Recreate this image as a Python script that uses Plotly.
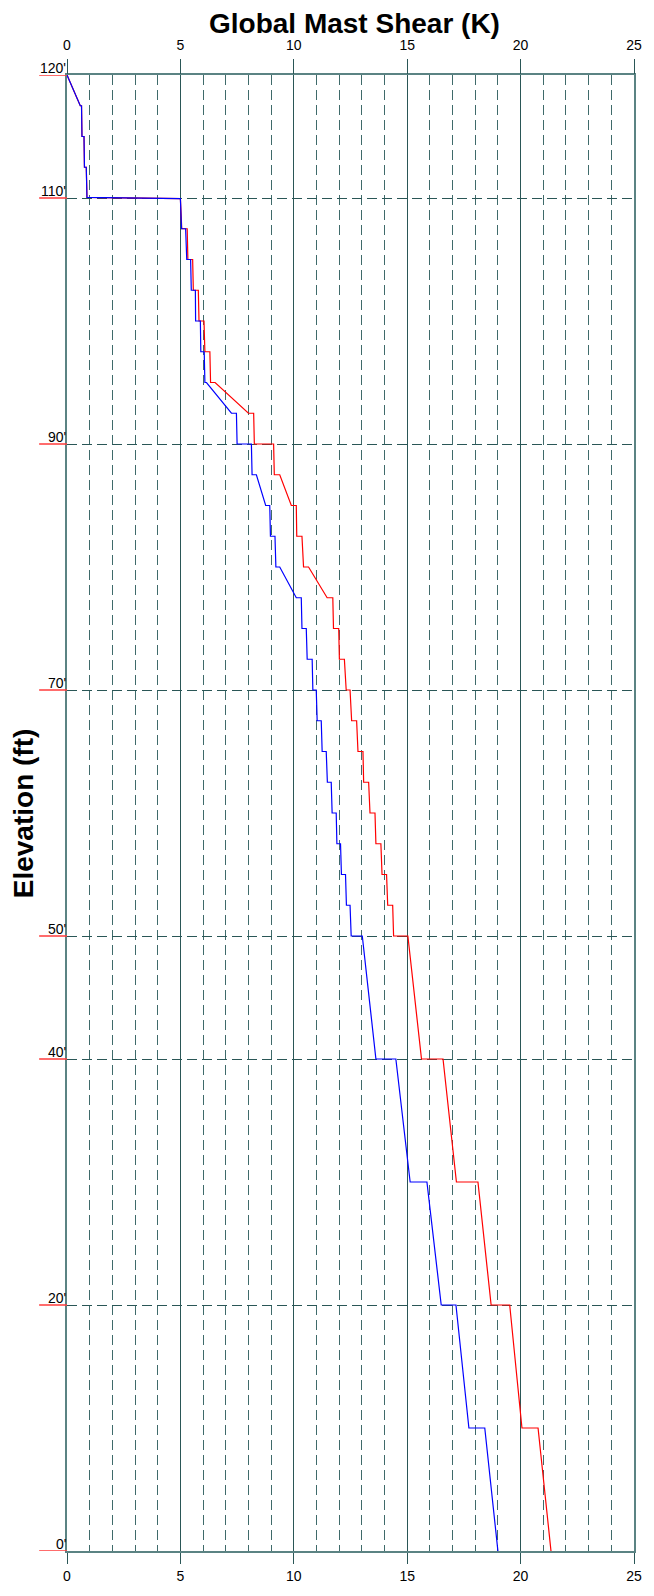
import plotly.graph_objects as go

# ---- data (shear in K, elevation in ft) ----
blue_shear = [0, 0.585, 0.64, 0.66, 0.75, 0.77, 0.85, 0.88, 5.0, 5.05, 5.23, 5.28, 5.45, 5.48, 5.66,
              5.67, 5.88, 5.90, 6.05, 6.08, 6.15, 7.25, 7.47, 7.50, 8.13, 8.16, 8.35, 8.76, 8.94,
              8.97, 9.17, 9.21, 9.38, 10.11, 10.33, 10.36, 10.55, 10.59, 10.81, 10.84, 10.99,
              11.03, 11.21, 11.25, 11.43, 11.48, 11.65, 11.69, 11.87, 11.90, 12.06, 12.10, 12.28,
              12.32, 12.48, 12.53, 13.02, 13.62, 14.50, 15.13, 15.87, 16.50, 17.15, 17.72, 18.42, 19.0]
blue_elev = [120, 117.5, 117.5, 115, 115, 112.5, 112.5, 110.05, 109.95, 107.5, 107.5, 105, 105, 102.5, 102.5,
             100, 100, 97.5, 97.5, 95, 95, 92.5, 92.5, 90, 90, 87.5, 87.5, 85, 85,
             82.5, 82.5, 80, 80, 77.5, 77.5, 75, 75, 72.5, 72.5, 70, 70,
             67.5, 67.5, 65, 65, 62.5, 62.5, 60, 60, 57.5, 57.5, 55, 55,
             52.5, 52.5, 50, 50, 40, 40, 30, 30, 20, 20, 10, 10, 0]

red_shear = [0, 0.585, 0.64, 0.66, 0.75, 0.77, 0.85, 0.88, 5.0, 5.06, 5.30, 5.33, 5.54, 5.57, 5.79,
             5.82, 6.04, 6.08, 6.30, 6.33, 6.53, 8.00, 8.23, 8.26, 9.11, 9.14, 9.38, 9.89, 10.11,
             10.13, 10.36, 10.43, 10.65, 11.47, 11.72, 11.75, 11.98, 12.01, 12.23, 12.31, 12.48,
             12.55, 12.77, 12.83, 13.05, 13.08, 13.30, 13.36, 13.58, 13.62, 13.84, 13.89, 14.09,
             14.14, 14.36, 14.40, 15.03, 15.63, 16.58, 17.17, 18.12, 18.70, 19.52, 20.06, 20.77, 21.34]
red_elev = blue_elev

x_ticks = [0, 5, 10, 15, 20, 25]
elev_levels = [120, 110, 90, 70, 50, 40, 20, 0]
elev_labels = ["120'", "110'", "90'", "70'", "50'", "40'", "20'", "0'"]

FONT = "Liberation Sans, Arial, sans-serif"
MAJOR = "#2a5656"
MINOR = "#3f6a6a"
FRAME = "#5b8383"

fig = go.Figure()
fig.add_trace(go.Scatter(x=red_shear, y=red_elev, mode="lines",
                         line=dict(color="#ff0000", width=1.2), showlegend=False, hoverinfo="skip"))
fig.add_trace(go.Scatter(x=blue_shear, y=blue_elev, mode="lines",
                         line=dict(color="#0000ff", width=1.2), showlegend=False, hoverinfo="skip"))
fig.add_trace(go.Scatter(x=[None], y=[None], xaxis="x2", showlegend=False, hoverinfo="skip"))

# page body has an 8px margin, so the figure is drawn 8px in from the window corner
W, H = 646, 1588
ml, mr, mt, mb = 59, 17, 67, 43
pw = W - ml - mr
ph = H - mt - mb

annotations = []
shapes = []
for v, t in zip(elev_levels, elev_labels):
    annotations.append(dict(x=0, y=v, xref="x", yref="y", text=t, showarrow=False,
                            xanchor="right", yanchor="bottom", xshift=1, yshift=-3,
                            font=dict(family=FONT, size=14, color="#000000")))
    shapes.append(dict(type="line", xref="paper", yref="y", x0=-28 / pw, x1=0, y0=v, y1=v,
                       line=dict(color="#ff3b3b", width=1.5), layer="above"))

annotations.append(dict(x=(348 - ml) / pw, y=1 + (mt - 15) / ph, xref="paper", yref="paper",
                        text="<b>Global Mast Shear (K)</b>", showarrow=False,
                        xanchor="center", yanchor="middle",
                        font=dict(family=FONT, size=28, color="#000000")))
annotations.append(dict(x=(15 - ml) / pw, y=0.5, xref="paper", yref="paper",
                        text="<b>Elevation (ft)</b>", showarrow=False, textangle=-90,
                        xanchor="center", yanchor="middle",
                        font=dict(family=FONT, size=28, color="#000000")))

axis_common = dict(range=[0, 25], tickvals=x_ticks, ticks="outside", tickcolor=MAJOR, tickwidth=1,
                   tickfont=dict(family=FONT, size=14, color="#000000"), zeroline=False)

fig.update_layout(
    width=W, height=H, margin=dict(l=ml, r=mr, t=mt, b=mb, pad=0),
    paper_bgcolor="white", plot_bgcolor="white",
    xaxis=dict(**axis_common, ticklen=11, side="bottom",
               showgrid=True, gridcolor=MAJOR, gridwidth=1,
               minor=dict(dtick=1, showgrid=True, gridcolor=MINOR, gridwidth=1, griddash="10px,5px", ticks=""),
               showline=True, linecolor=FRAME, linewidth=1.5, mirror=True),
    xaxis2=dict(**axis_common, ticklen=15, ticklabelstandoff=3, side="top", overlaying="x", matches="x",
                anchor="y", showgrid=False, showline=False),
    yaxis=dict(range=[0, 120], tickvals=[20, 40, 50, 70, 90, 110], showticklabels=False, ticks="",
               showgrid=True, gridcolor=MAJOR, gridwidth=1, griddash="10px,5px", zeroline=False,
               showline=True, linecolor=FRAME, linewidth=1.5, mirror=True),
    annotations=annotations,
    shapes=shapes,
)

fig.write_html("out.html")
